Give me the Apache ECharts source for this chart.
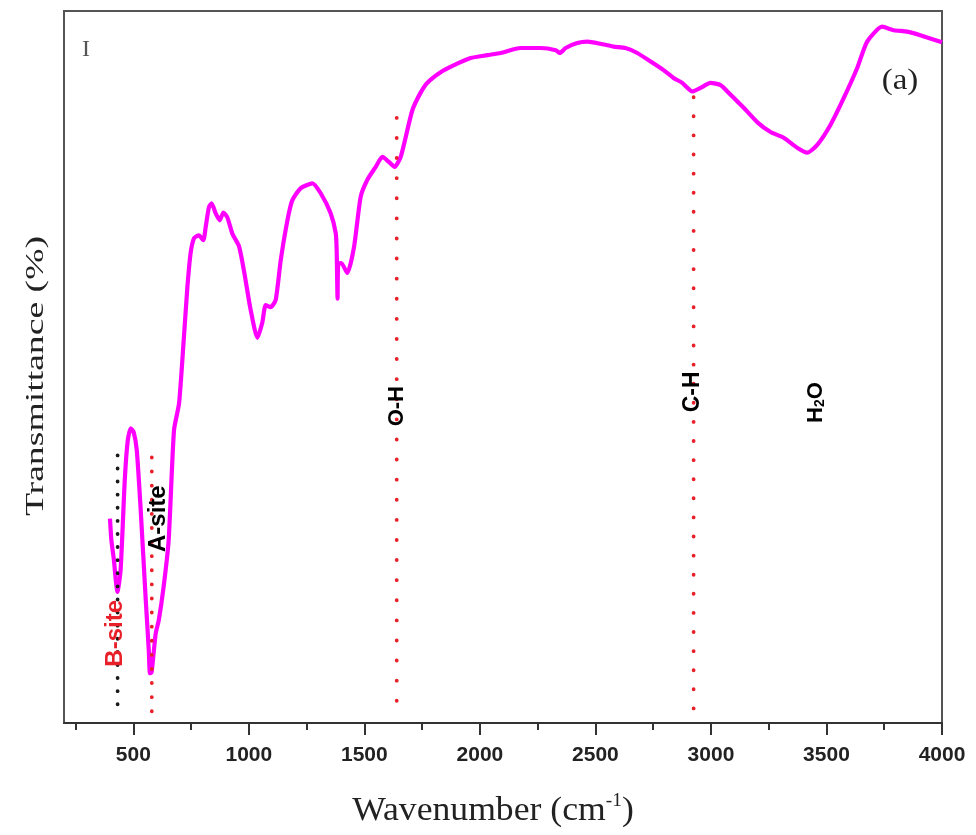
<!DOCTYPE html>
<html>
<head>
<meta charset="utf-8">
<script src="https://cdn.jsdelivr.net/npm/echarts@6/dist/echarts.min.js"></script>
<style>html,body{margin:0;padding:0;background:#fff}#c{width:976px;height:835px}</style>
</head>
<body>
<div id="c"></div>
<script>
// ---- data ----
const wavenumber = [399,405,416,424,431,445,463,476,489,502,515,532,554,567,572,579,597,610,631,653,676,698,719,734,748,763,784,803,813,827,839,856,874,890,907,929,957,979,1008,1037,1058,1073,1094,1116,1138,1167,1188,1224,1275,1311,1354,1376,1380,1384,1387,1400,1426,1455,1484,1513,1549,1578,1606,1631,1657,1679,1708,1743,1772,1830,1888,1960,2032,2090,2176,2263,2328,2346,2371,2421,2465,2522,2579,2630,2681,2739,2795,2838,2876,2919,2955,2998,3042,3071,3142,3200,3258,3315,3373,3417,3460,3517,3575,3633,3676,3741,3791,3849,3906,4000];
const transmittance = [28.7,25.7,22.9,20.1,18.4,21.5,34.1,39.7,41.4,40.8,38.3,29.9,17.2,10.2,7.0,7.1,12.6,14.4,19.1,25.7,41.1,44.9,54.2,61.2,66.0,68.1,68.5,67.8,69.6,72.4,73.0,71.6,70.6,71.7,71.0,68.7,67.0,63.5,58.0,54.1,56.2,58.7,58.4,59.4,65.0,70.6,73.4,75.1,75.8,74.4,71.6,68.8,66.5,59.6,64.5,64.6,63.2,66.8,73.9,76.3,78.1,79.5,78.8,78.1,79.5,82.3,86.1,88.5,89.9,91.4,92.4,93.4,93.8,94.1,94.8,94.8,94.5,94.1,94.8,95.5,95.7,95.4,95.0,94.8,94.1,92.9,91.7,90.6,89.9,88.7,89.2,89.9,89.6,88.7,86.4,84.4,83.0,82.2,80.8,80.1,81.2,84.0,87.8,92.0,95.7,97.8,97.3,97.1,96.6,95.6];

const majorTicks = [500,1000,1500,2000,2500,3000,3500,4000];
const minorTicks = [250,750,1250,1750,2250,2750,3250,3750];

// marker (dotted) lines
const markerPos = [432, 580, 1640, 2925];
const markerTop = [37.6, 37.3, 85.0, 87.9];
const markerBottom = [1.5, 1.2, 1.5, 0.4];

// annotation texts
const annoText = ['B-site','A-site','O-H','C-H','H2O'];
const annoX = [424, 608, 1639, 2921, 3456];
const annoY = [12.6, 28.7, 44.5, 46.5, 45.0];

// ---- styles ----
const markerColors = ['#1a1a1a','#e8202a','#e8202a','#e8202a'];
const markerGap = [13, 14, 20, 19];
const annoColors = ['#e8202a','#000','#000','#000','#000'];
const annoSize = [24, 24, 22, 23, 22];

const chart = echarts.init(document.getElementById('c'), null, {renderer:'canvas'});

const series = [{
  type:'line', data: wavenumber.map((w,i)=>[w, transmittance[i]]),
  showSymbol:false, smooth:0.2, z:2,
  lineStyle:{color:'#ff00ff', width:4.2}
}];
markerPos.forEach((p,i)=>{
  series.push({
    type:'line', data:[[p, markerTop[i]],[p, markerBottom[i]]], showSymbol:false, z:3,
    lineStyle:{color:markerColors[i], width:3.8, type:[0.1, markerGap[i]], cap:'round'}
  });
});
annoText.forEach((t,i)=>{
  series.push({
    type:'scatter', data:[[annoX[i], annoY[i]]], symbolSize:0, z:5,
    itemStyle:{opacity:1},
    label:{show:true, position:'inside', rotate:90, align:'center', verticalAlign:'middle',
      formatter: t === 'H2O' ? '{n|H}{s|2}{n|O}' : t,
      color:annoColors[i], fontSize:annoSize[i], fontWeight:'bold', fontFamily:'Liberation Sans',
      rich:{n:{fontSize:annoSize[i], fontWeight:'bold', color:annoColors[i], fontFamily:'Liberation Sans'},
            s:{fontSize:14, fontWeight:'bold', color:annoColors[i], fontFamily:'Liberation Sans', verticalAlign:'bottom'}}
    }
  });
});

chart.setOption({
  animation:false,
  backgroundColor:'#fff',
  grid:{left:64, right:34, top:11, bottom:112, show:true, borderColor:'#555', borderWidth:2},
  xAxis:[{
    type:'value', min:200, max:4000, position:'bottom',
    axisLine:{show:true, lineStyle:{color:'#333', width:2}},
    axisTick:{show:true, customValues:majorTicks, length:12, lineStyle:{color:'#333', width:2}},
    axisLabel:{customValues:majorTicks, formatter:(v)=>String(v), fontSize:21, fontWeight:'bold', color:'#222', fontFamily:'Liberation Sans', margin:22},
    splitLine:{show:false}
  },{
    type:'value', min:200, max:4000, position:'bottom',
    axisLine:{show:false},
    axisTick:{show:true, customValues:minorTicks, length:7, lineStyle:{color:'#333', width:2}},
    axisLabel:{show:false}, splitLine:{show:false}
  }],
  yAxis:{type:'value', min:0, max:100,
    axisLine:{show:true, lineStyle:{color:'#555', width:2}},
    axisTick:{show:false}, axisLabel:{show:false}, splitLine:{show:false}},
  series: series,
  graphic:[
    {type:'text', x:493, y:811, scaleX:1.08, style:{
      text:'{a|Wavenumber (cm}{b|-1}{a|)}', align:'center', verticalAlign:'middle',
      rich:{a:{fontSize:33, fontFamily:'Liberation Serif', fill:'#222', lineHeight:38},
            b:{fontSize:18, fontFamily:'Liberation Serif', fill:'#222', verticalAlign:'top', lineHeight:38}}
    }},
    {type:'text', x:36, y:376, rotation:Math.PI/2, scaleX:1.45, style:{
      text:'Transmittance (%)', align:'center', verticalAlign:'middle',
      font:'26px "Liberation Serif"', fill:'#222'
    }},
    {type:'text', x:900, y:81, scaleX:1.1, style:{
      text:'(a)', align:'center', verticalAlign:'middle', font:'30px "Liberation Serif"', fill:'#222'
    }},
    {type:'text', x:86, y:50, style:{
      text:'I', align:'center', verticalAlign:'middle', font:'24px "Liberation Serif"', fill:'#555'
    }}
  ]
});
</script>
</body>
</html>
